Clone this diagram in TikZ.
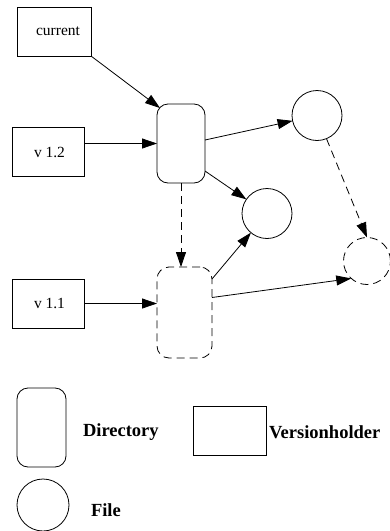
\documentclass[tikz,border=0pt]{standalone}
\usepackage{fontspec}
\setmainfont{Liberation Serif}
\usetikzlibrary{arrows.meta,calc}
\begin{document}
\begin{tikzpicture}[x=1pt,y=-1pt,
  every node/.style={inner sep=0pt,outer sep=0pt},
  line/.style={line width=0.8pt},
  arr/.style={line, -{Triangle[length=15pt,width=10pt]}},
  dashline/.style={dash pattern=on 8pt off 5pt},
  holder/.style={draw, line, rectangle, minimum width=72pt, minimum height=49pt,
    font=\fontsize{15.5}{17}\selectfont},
  dir/.style={draw, line, rounded corners=11pt, minimum width=48pt, minimum height=79pt},
  file/.style={draw, line, circle, minimum size=50pt},
  legend/.style={anchor=west, font=\fontsize{18.5}{20}\selectfont\bfseries}
]
\useasboundingbox (0,0) rectangle (390,531);

% version holders
\node[holder, minimum width=74pt] (cur) at (54,31.5) {\hspace*{8pt}current};
\node[holder] (v12) at (48,152) {\hspace*{3pt}v 1.2};
\node[holder] (v11) at (48,303.5) {\hspace*{3pt}v 1.1};

% directories
\node[dir] (d1) at (181,143.5) {};
\node[dir, dashline, minimum width=55pt, minimum height=91pt, rounded corners=12pt] (d2) at (184.5,312.5) {};

% files
\node[file] (c1) at (317,115.5) {};
\node[file] (c2) at (267,213.5) {};
\node[file, dashline, minimum size=47pt] (c3) at (367,261) {};

% connectors
\draw[arr] (cur.south east) -- ($(d1.north west)+(3,4)$);
\draw[arr] (v12.east |- d1.west) -- (d1.west);
\draw[arr] (v11.east) -- (v11.east -| d2.west);
\draw[arr] ($(d1.east)+(0,-3.5)$) -- (c1);
\draw[arr] ($(d1.south east)+(0,-12)$) -- (c2);
\draw[arr, dashline] (d1.south) -- (d1.south |- d2.north);
\draw[arr, dashline] (c1) -- (c3.north);
\draw[arr] ($(d2.north east)+(0,12)$) -- (c2);
\draw[arr] ($(d2.east)+(0,-15)$) -- (c3.228);

% legend
\node[dir, minimum width=49pt] (ld) at (41.5,427.5) {};
\node[legend] (ldt) at (83,432) {Directory};
\node[draw, line, rectangle, minimum width=73pt, minimum height=49pt] (lv) at (229.5,430.5) {};
\node[legend] (lvt) at (269,432) {Versionholder};
\node[file, minimum size=52pt] (lf) at (43,505) {};
\node[legend] (lft) at (91,510) {File};
\end{tikzpicture}
\end{document}
